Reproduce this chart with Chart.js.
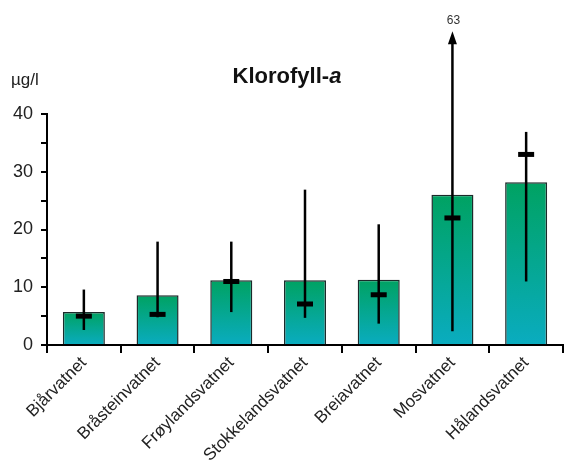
<!DOCTYPE html>
<html lang="no">
<head>
    <meta charset="UTF-8">
    <title>Klorofyll-a</title>
    <script src="https://cdn.jsdelivr.net/npm/chart.js"></script>
    <style>
        body { margin: 0; background: #fff; }
        #wrap { width: 565px; height: 472px; position: relative; }
    </style>
</head>
<body>
    <div id="wrap"><canvas id="chart"></canvas></div>

    <script>
        const categories = ['Bjårvatnet', 'Bråsteinvatnet', 'Frøylandsvatnet', 'Stokkelandsvatnet', 'Breiavatnet', 'Mosvatnet', 'Hålandsvatnet'];
        const means = [5.7, 8.6, 11.2, 11.2, 11.3, 26.0, 28.2];
        const medians = [5.0, 5.3, 11.0, 7.1, 8.7, 22.0, 33.0];
        const mins = [2.6, 4.8, 5.7, 4.7, 3.7, 2.4, 11.0];
        const maxs = [9.6, 17.9, 17.9, 26.9, 20.9, 63, 36.9];
        const yTicks = [0, 10, 20, 30, 40];
        const arrowCap = 54; // values above the axis are drawn as an arrow up to here

        const font = '"Liberation Sans", Arial, sans-serif';

        // min-max line, median dash and the arrow for values off the scale
        const rangePlugin = {
            id: 'range',
            afterDatasetsDraw(chart) {
                const ctx = chart.ctx;
                const x = chart.scales.x, y = chart.scales.y;
                const top = y.max;
                ctx.save();
                ctx.strokeStyle = '#000';
                ctx.fillStyle = '#000';
                categories.forEach((c, i) => {
                    const px = x.getPixelForValue(i);
                    const over = maxs[i] > top;
                    const hi = over ? y.getPixelForValue(arrowCap) : y.getPixelForValue(maxs[i]);
                    ctx.lineWidth = 2.5;
                    ctx.beginPath();
                    ctx.moveTo(px, y.getPixelForValue(mins[i]));
                    ctx.lineTo(px, over ? hi + 10 : hi);
                    ctx.stroke();
                    if (over) {
                        ctx.beginPath();
                        ctx.moveTo(px, hi - 2);
                        ctx.lineTo(px - 4.5, hi + 11);
                        ctx.lineTo(px + 4.5, hi + 11);
                        ctx.closePath();
                        ctx.fill();
                        ctx.font = '12px ' + font;
                        ctx.fillStyle = '#333';
                        ctx.textAlign = 'center';
                        ctx.textBaseline = 'bottom';
                        ctx.fillText(String(maxs[i]), px + 1, hi - 6);
                        ctx.fillStyle = '#000';
                    }
                    const my = y.getPixelForValue(medians[i]);
                    ctx.fillRect(px - 8, my - 2.5, 16, 5);
                });
                ctx.restore();
            }
        };

        const titlePlugin = {
            id: 'titles',
            afterDraw(chart) {
                const ctx = chart.ctx;
                ctx.save();
                ctx.fillStyle = '#111';
                ctx.textBaseline = 'alphabetic';
                const t1 = 'Klorofyll-';
                ctx.font = 'bold 22px ' + font;
                const w1 = ctx.measureText(t1).width;
                ctx.font = 'bold italic 22px ' + font;
                const w2 = ctx.measureText('a').width;
                const sx = 287 - (w1 + w2) / 2;
                ctx.font = 'bold 22px ' + font;
                ctx.fillText(t1, sx, 83);
                ctx.font = 'bold italic 22px ' + font;
                ctx.fillText('a', sx + w1, 83);
                ctx.font = '17px ' + font;
                ctx.fillStyle = '#222';
                ctx.fillText('µg/l', 11, 85);
                ctx.restore();
            }
        };

        // each bar runs green at its top to teal at the axis
        const gradFill = (context) => {
            const chart = context.chart;
            if (!chart.chartArea || context.dataIndex === undefined) return '#00a36a';
            const y = chart.scales.y;
            const g = chart.ctx.createLinearGradient(0, y.getPixelForValue(means[context.dataIndex]), 0, y.getPixelForValue(0));
            g.addColorStop(0, '#00a262');
            g.addColorStop(1, '#0aacc0');
            return g;
        };

        new Chart(document.getElementById('chart'), {
            type: 'bar',
            data: {
                labels: categories,
                datasets: [{
                    data: means,
                    backgroundColor: gradFill,
                    borderColor: '#1b2a2a',
                    borderWidth: 1.5,
                    borderSkipped: 'bottom',
                    categoryPercentage: 1,
                    barPercentage: 0.57
                }]
            },
            options: {
                responsive: true,
                maintainAspectRatio: false,
                animation: false,
                layout: { padding: { top: 114, right: 2, left: 0, bottom: 0 } },
                plugins: { legend: { display: false }, tooltip: { enabled: false } },
                scales: {
                    x: {
                        offset: true,
                        grid: { offset: true, drawOnChartArea: false, color: '#000', lineWidth: 2, tickLength: 8 },
                        border: { color: '#000', width: 2 },
                        ticks: {
                            minRotation: 45, maxRotation: 45, color: '#222', padding: 0,
                            font: { family: font, size: 17 }
                        },
                        afterFit(s) { s.height = 127; }
                    },
                    y: {
                        min: 0, max: 40,
                        grid: { drawOnChartArea: false, color: '#000', lineWidth: 2, tickLength: 6 },
                        border: { color: '#000', width: 2 },
                        ticks: {
                            stepSize: 5, color: '#222', padding: 8,
                            font: { family: font, size: 18 },
                            callback: (v) => yTicks.includes(v) ? v : ''
                        },
                        afterFit(s) { s.width = 47; }
                    }
                }
            },
            plugins: [rangePlugin, titlePlugin]
        });
    </script>
</body>
</html>
